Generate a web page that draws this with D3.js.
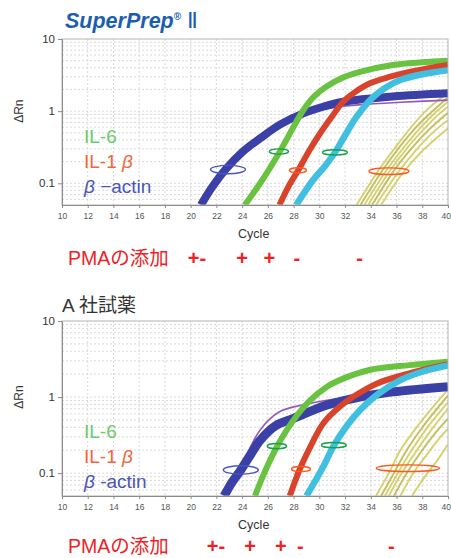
<!DOCTYPE html>
<html>
<head>
<meta charset="utf-8">
<script src="https://cdn.jsdelivr.net/npm/d3@7"></script>
<style>
  html, body { margin: 0; padding: 0; background: #fff; }
  svg { display: block; font-family: "Liberation Sans", Arial, sans-serif; }
</style>
</head>
<body>
<svg id="chart" width="451" height="558"></svg>
<script>
// tick labels
const cycleTicks = [10, 12, 14, 16, 18, 20, 22, 24, 26, 28, 30, 32, 34, 36, 38, 40];
const valueTicks = [0.1, 1, 10];

// SuperPrep II panel: [cycle, dRn]
const spActin = [[20.8,0.05],[21.7,0.09],[22.7,0.155],[24,0.27],[25.4,0.42],[27,0.66],[28.75,0.93],[30.3,1.15],[31.85,1.35],[35.7,1.6],[40,1.77]];
const spPurple = [[20.9,0.05],[22.8,0.155],[25.4,0.42],[28.5,0.88],[31,1.12],[33,1.22],[36,1.32],[40,1.42]];
const spIL6 = [[24.2,0.05],[25.4,0.1],[26.9,0.27],[28.75,1.03],[29.6,1.6],[30.56,2.19],[31.8,2.9],[33.15,3.5],[35.7,4.35],[38,4.75],[40,5.0]];
const spIL1b = [[26.9,0.05],[27.6,0.09],[28.36,0.152],[29.2,0.28],[30.05,0.49],[31,0.85],[31.85,1.35],[32.8,1.85],[33.93,2.43],[35.5,3.0],[37,3.5],[38.5,3.95],[40,4.35]];
const spCyan = [[28.2,0.05],[29.5,0.11],[30.4,0.17],[31.2,0.265],[32,0.46],[32.9,0.84],[34.2,1.58],[35.2,2.15],[36.3,2.7],[38,3.25],[40,3.7]];
const spYellow = [
  [[32.9,0.05],[34.6,0.15],[36.0,0.33],[37.3,0.65],[38.5,1.1],[40,1.8]],
  [[33.2,0.05],[34.9,0.15],[36.3,0.33],[37.6,0.62],[38.8,1.0],[40,1.55]],
  [[33.5,0.05],[35.2,0.15],[36.6,0.32],[37.9,0.6],[39,0.95],[40,1.35]],
  [[33.8,0.05],[35.5,0.15],[36.9,0.32],[38.2,0.58],[39.2,0.88],[40,1.15]],
  [[34.1,0.05],[35.8,0.15],[37.2,0.31],[38.5,0.55],[40,0.95]],
  [[34.4,0.05],[36.1,0.14],[37.6,0.3],[38.9,0.52],[40,0.75]],
  [[34.8,0.05],[36.5,0.14],[38.0,0.28],[40,0.58]]
];
const spRings = [["actin",22.9,0.155,1.36],["il6",26.86,0.276,0.74],["il1b",28.34,0.151,0.66],["il6",31.21,0.268,0.97],["il1b",35.41,0.147,1.55]];
const spPmaMarks = [["+-",20.49],["+",23.99],["+",26.12],["-",28.26],["-",33.12]];

// A社試薬 panel
const akActin = [[22.6,0.05],[23.2,0.075],[23.9,0.11],[24.7,0.18],[25.4,0.27],[26.6,0.42],[28,0.525],[30.6,0.785],[33.15,1.0],[35.7,1.17],[40,1.37]];
const akPurple = [[22.7,0.05],[24,0.13],[25.4,0.37],[26.9,0.64],[28.75,0.79],[31.8,0.97],[35,1.12],[40,1.33]];
const akIL6 = [[25.0,0.05],[25.6,0.09],[26.7,0.222],[28,0.5],[29.3,0.91],[30.6,1.37],[31.9,1.76],[33.9,2.27],[37,2.63],[40,2.92]];
const akIL1b = [[27.7,0.05],[28.5,0.115],[29.3,0.222],[30.3,0.45],[31.6,0.75],[32.6,1.0],[34.45,1.5],[37,2.05],[40,2.7]];
const akCyan = [[29.0,0.05],[30.3,0.121],[31.1,0.227],[32.1,0.41],[33.15,0.67],[34.45,1.06],[36.3,1.67],[38,2.15],[40,2.6]];
const akYellow = [
  [[34.4,0.05],[35.4,0.1],[36.3,0.2],[37.8,0.45],[39,0.8],[40,1.25]],
  [[34.8,0.05],[35.8,0.1],[36.7,0.19],[38.1,0.42],[39.2,0.72],[40,1.05]],
  [[35.1,0.05],[36.1,0.1],[37.0,0.18],[38.4,0.4],[39.4,0.65],[40,0.85]],
  [[35.4,0.05],[36.4,0.1],[37.4,0.18],[38.7,0.37],[40,0.7]],
  [[35.8,0.05],[36.8,0.1],[37.8,0.18],[39.1,0.35],[40,0.52]],
  [[36.3,0.05],[37.3,0.1],[38.3,0.17],[39.5,0.31],[40,0.38]],
  [[37.2,0.05],[38.2,0.09],[39.2,0.15],[40,0.24]]
];
const akRings = [["actin",23.9,0.11,1.36],["il6",26.7,0.226,0.75],["il1b",28.57,0.113,0.74],["il6",31.13,0.233,0.97],["il1b",36.88,0.116,2.45]];
const akPmaMarks = [["+-",21.97],["+",24.61],["+",27.0],["-",28.53],["-",35.6]];

const pmaLabel = "PMAの添加";

const ringColor = { actin: "#4656c4", il6: "#17a24a", il1b: "#ff5a1e" };

const svg = d3.select("#chart");

function drawPanel(cfg) {
  const g = svg.append("g");
  const left = 62, right = 448;
  const x = d3.scaleLinear().domain([10, 40]).range([left, right]);
  const y = d3.scaleLog().domain([0.05, 10]).range([cfg.bottom, cfg.top]);

  cfg.title(g);

  // grid
  g.append("g").selectAll("line")
    .data(cycleTicks.slice(1, -1))
    .join("line")
    .attr("x1", d => x(d)).attr("x2", d => x(d))
    .attr("y1", cfg.top).attr("y2", cfg.bottom)
    .attr("stroke", "#cfcfcf").attr("stroke-width", 0.8)
    .attr("stroke-dasharray", "2,2");
  g.append("g").selectAll("line")
    .data(y.ticks().filter(d => d > 0.05 && d < 10))
    .join("line")
    .attr("x1", left).attr("x2", right)
    .attr("y1", d => y(d)).attr("y2", d => y(d))
    .attr("stroke", "#cfcfcf").attr("stroke-width", 0.8)
    .attr("stroke-dasharray", "2,2");

  const clipId = "clip" + cfg.id;
  g.append("clipPath").attr("id", clipId)
    .append("rect")
    .attr("x", left).attr("y", cfg.top)
    .attr("width", right - left).attr("height", cfg.bottom - cfg.top);

  const line = d3.line()
    .x(d => x(d[0]))
    .y(d => y(d[1]))
    .curve(d3.curveCatmullRom.alpha(0.5));

  const curves = g.append("g").attr("clip-path", `url(#${clipId})`).attr("fill", "none");

  curves.selectAll(".yel")
    .data(cfg.yellow)
    .join("path")
    .attr("d", line)
    .attr("stroke", (d, i) => i % 3 === 1 ? "#bdb74c" : "#d3cc5c")
    .attr("stroke-width", 1.9)
    .attr("stroke-opacity", 0.9);

  const bands = [
    [cfg.purple, "#9657b8", 1.6],
    [cfg.actin, "#3b40a6", cfg.actinW],
    [cfg.il6, "#69c240", 6],
    [cfg.il1b, "#d8432c", 6],
    [cfg.cyan, "#40bfe0", 6.5]
  ];
  bands.forEach(([data, color, w]) => {
    curves.append("path")
      .attr("d", line(data))
      .attr("stroke", color)
      .attr("stroke-width", w)
      .attr("stroke-linejoin", "round");
  });

  // annotation rings
  g.append("g").selectAll("ellipse")
    .data(cfg.rings)
    .join("ellipse")
    .attr("cx", d => x(d[1]))
    .attr("cy", d => y(d[2]))
    .attr("rx", d => x(10 + d[3]) - x(10))
    .attr("ry", d => d[0] === "actin" ? 4.2 : (d[3] > 1.5 ? 3.3 : 2.6))
    .attr("fill", "none")
    .attr("stroke", d => ringColor[d[0]])
    .attr("stroke-width", 1.4);

  // frame
  g.append("rect")
    .attr("x", left).attr("y", cfg.top)
    .attr("width", right - left).attr("height", cfg.bottom - cfg.top)
    .attr("fill", "none").attr("stroke", "#b4b4b4").attr("stroke-width", 1);

  // axes
  const xAxis = g.append("g")
    .attr("transform", `translate(0,${cfg.bottom})`)
    .call(d3.axisBottom(x).tickValues(cycleTicks).tickSize(3).tickSizeOuter(0).tickFormat(d3.format("d")));
  xAxis.select(".domain").attr("stroke", "#8c8c8c");
  xAxis.selectAll(".tick line").attr("stroke", "#8c8c8c");
  xAxis.selectAll(".tick text")
    .attr("font-family", "Liberation Sans, Arial, sans-serif")
    .attr("font-size", 8.5).attr("fill", "#555").attr("dy", "0.9em");
  // keep the last label inside the window
  xAxis.selectAll(".tick text").filter(d => d === 40)
    .attr("text-anchor", "end").attr("x", 2.5);

  const yAxis = g.append("g")
    .attr("transform", `translate(${left},0)`)
    .call(d3.axisLeft(y).tickValues(valueTicks).tickSize(4).tickSizeOuter(0).tickFormat(d => String(d)));
  yAxis.select(".domain").attr("stroke", "#8c8c8c");
  yAxis.selectAll(".tick line").attr("stroke", "#8c8c8c");
  yAxis.selectAll(".tick text")
    .attr("font-family", "Liberation Sans, Arial, sans-serif")
    .attr("font-size", 11.5).attr("fill", "#333").attr("x", -7);

  g.append("text")
    .attr("transform", `translate(23,${y(1)}) rotate(-90)`)
    .attr("text-anchor", "middle")
    .attr("font-size", 12).attr("fill", "#333")
    .text("ΔRn");

  g.append("text")
    .attr("x", x(24.9)).attr("y", cfg.bottom + 33)
    .attr("text-anchor", "middle")
    .attr("font-size", 12.5).attr("fill", "#333")
    .text("Cycle");

  // legend
  const lg = g.append("g").attr("font-size", 19);
  lg.append("text").attr("x", 84).attr("y", cfg.legendY).attr("fill", "#6ccb6a").text("IL-6");
  const t2 = lg.append("text").attr("x", 84).attr("y", cfg.legendY + 25).attr("fill", "#f2663a");
  t2.append("tspan").text("IL-1 ");
  t2.append("tspan").attr("font-style", "italic").text("β");
  const t3 = lg.append("text").attr("x", 84).attr("y", cfg.legendY + 50).attr("fill", "#4a55b8");
  t3.append("tspan").attr("font-style", "italic").text("β");
  t3.append("tspan").text(cfg.actinText);

  // PMA row
  const pma = g.append("g").attr("fill", "#ec2326");
  pma.append("text")
    .attr("x", 68).attr("y", cfg.pmaY)
    .attr("font-family", "'Liberation Sans', 'Noto Sans CJK JP', sans-serif")
    .attr("font-size", 19.5)
    .text(pmaLabel);
  pma.selectAll(".mark")
    .data(cfg.marks)
    .join("text")
    .attr("x", d => x(d[1]))
    .attr("y", cfg.pmaY)
    .attr("text-anchor", "middle")
    .attr("font-size", 20).attr("font-weight", "bold")
    .text(d => d[0]);
}

drawPanel({
  id: "sp", top: 39, bottom: 205, legendY: 143, pmaY: 265, actinW: 8,
  actinText: " −actin",
  actin: spActin, purple: spPurple, il6: spIL6, il1b: spIL1b, cyan: spCyan, yellow: spYellow,
  rings: spRings, marks: spPmaMarks,
  title: g => {
    const t = g.append("text").attr("x", 65).attr("y", 28).attr("fill", "#1b5eb0");
    t.append("tspan").attr("font-size", 21.5).attr("font-weight", "bold").attr("font-style", "italic").text("SuperPrep");
    t.append("tspan").attr("font-size", 10).attr("font-weight", "bold").attr("dy", -8).text("®");
    t.append("tspan").attr("font-size", 22).attr("dy", 8).attr("dx", 6).text("Ⅱ");
  }
});

drawPanel({
  id: "ak", top: 321, bottom: 496, legendY: 438, pmaY: 553, actinW: 9,
  actinText: " -actin",
  actin: akActin, purple: akPurple, il6: akIL6, il1b: akIL1b, cyan: akCyan, yellow: akYellow,
  rings: akRings, marks: akPmaMarks,
  title: g => {
    g.append("text").attr("x", 62).attr("y", 312)
      .attr("font-family", "'Liberation Sans', 'Noto Sans CJK JP', sans-serif")
      .attr("font-size", 19).attr("fill", "#333")
      .text("A 社試薬");
  }
});
</script>
</body>
</html>
